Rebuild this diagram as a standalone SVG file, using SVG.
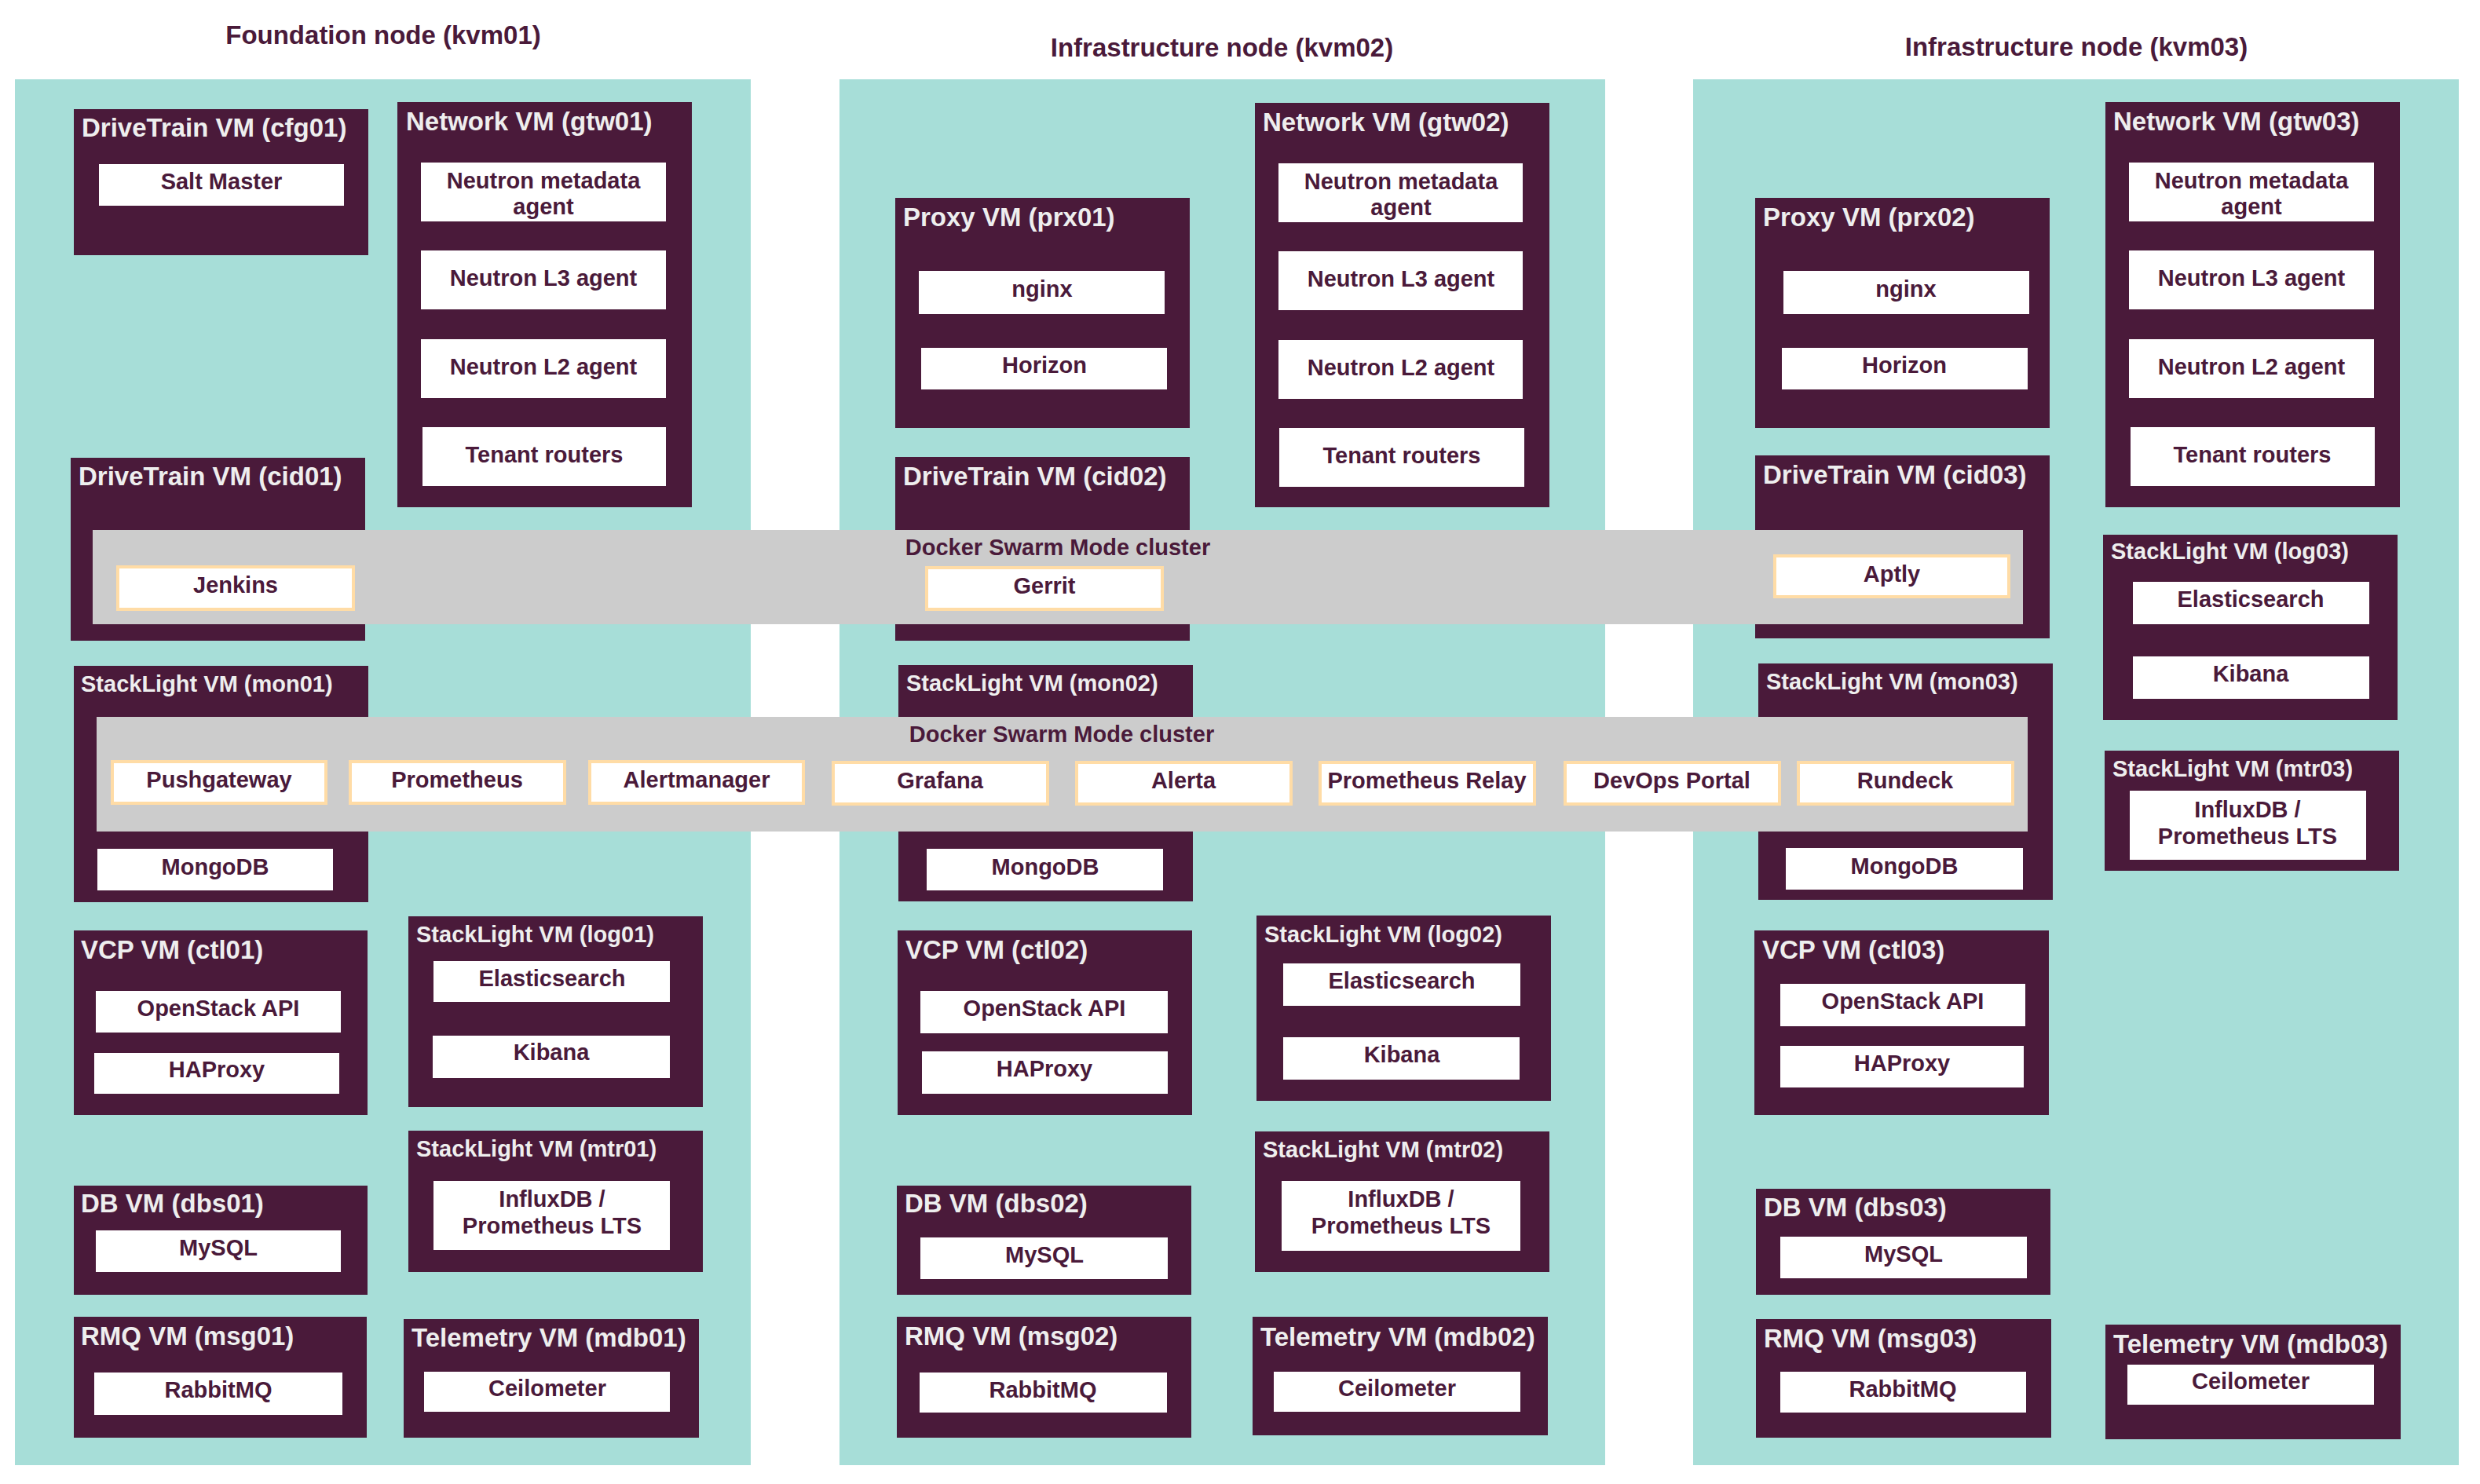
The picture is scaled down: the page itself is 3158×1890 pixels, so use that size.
<svg xmlns="http://www.w3.org/2000/svg" width="3158" height="1890" viewBox="0 0 3158 1890">
<style>
.bg{fill:#ffffff}
.panel{fill:#a7ded8}
.vm{fill:#4a1a3a}
.comp{fill:#ffffff}
.band{fill:#cccccc}
.svc{fill:#ffffff;stroke:#ffdca6;stroke-width:4}
text{font-family:"Liberation Sans",Arial,sans-serif;font-weight:bold}
.ht{fill:#4a1a3a;font-size:33px;text-anchor:middle}
.vt{fill:#eeeeee;font-size:33px}
.st{fill:#eeeeee;font-size:29px}
.ct{fill:#4a1a3a;font-size:29px;text-anchor:middle}
</style>
<rect class="bg" x="0" y="0" width="3158" height="1890"/>

<g id="kvm01">
<rect class="panel" x="19" y="101" width="937" height="1765"/>
<text class="ht" x="488" y="56">Foundation node (kvm01)</text>
</g>
<g id="kvm02">
<rect class="panel" x="1069" y="101" width="975" height="1765"/>
<text class="ht" x="1556" y="72">Infrastructure node (kvm02)</text>
</g>
<g id="kvm03">
<rect class="panel" x="2156" y="101" width="975" height="1765"/>
<text class="ht" x="2644" y="71">Infrastructure node (kvm03)</text>
</g>

<!-- kvm01 VMs -->
<g id="cfg01">
<rect class="vm" x="94" y="139" width="375" height="186"/>
<text class="vt" x="104" y="174">DriveTrain VM (cfg01)</text>
<rect class="comp" x="126" y="209" width="312" height="53"/>
<text class="ct" x="282" y="241">Salt Master</text>
</g>
<g id="gtw01">
<rect class="vm" x="506" y="130" width="375" height="516"/>
<text class="vt" x="517" y="166">Network VM (gtw01)</text>
<rect class="comp" x="536" y="207" width="312" height="75"/>
<text class="ct" x="692" y="240">Neutron metadata</text>
<text class="ct" x="692" y="273">agent</text>
<rect class="comp" x="536" y="319" width="312" height="75"/>
<text class="ct" x="692" y="364">Neutron L3 agent</text>
<rect class="comp" x="536" y="432" width="312" height="75"/>
<text class="ct" x="692" y="477">Neutron L2 agent</text>
<rect class="comp" x="538" y="544" width="310" height="75"/>
<text class="ct" x="693" y="589">Tenant routers</text>
</g>
<g id="cid01">
<rect class="vm" x="90" y="583" width="375" height="233"/>
<text class="vt" x="100" y="618">DriveTrain VM (cid01)</text>
</g>
<g id="mon01">
<rect class="vm" x="94" y="848" width="375" height="301"/>
<text class="st" x="103" y="881">StackLight VM (mon01)</text>
<rect class="comp" x="124" y="1081" width="300" height="53"/>
<text class="ct" x="274" y="1114">MongoDB</text>
</g>
<g id="ctl01">
<rect class="vm" x="94" y="1185" width="374" height="235"/>
<text class="vt" x="103" y="1221">VCP VM (ctl01)</text>
<rect class="comp" x="122" y="1262" width="312" height="53"/>
<text class="ct" x="278" y="1294">OpenStack API</text>
<rect class="comp" x="120" y="1341" width="312" height="52"/>
<text class="ct" x="276" y="1372">HAProxy</text>
</g>
<g id="log01">
<rect class="vm" x="520" y="1167" width="375" height="243"/>
<text class="st" x="530" y="1200">StackLight VM (log01)</text>
<rect class="comp" x="552" y="1224" width="301" height="52"/>
<text class="ct" x="703" y="1256">Elasticsearch</text>
<rect class="comp" x="551" y="1319" width="302" height="54"/>
<text class="ct" x="702" y="1350">Kibana</text>
</g>
<g id="mtr01">
<rect class="vm" x="520" y="1440" width="375" height="180"/>
<text class="st" x="530" y="1473">StackLight VM (mtr01)</text>
<rect class="comp" x="552" y="1504" width="301" height="88"/>
<text class="ct" x="703" y="1537">InfluxDB /</text>
<text class="ct" x="703" y="1571">Prometheus LTS</text>
</g>
<g id="dbs01">
<rect class="vm" x="94" y="1510" width="374" height="139"/>
<text class="vt" x="103" y="1544">DB VM (dbs01)</text>
<rect class="comp" x="122" y="1567" width="312" height="53"/>
<text class="ct" x="278" y="1599">MySQL</text>
</g>
<g id="msg01">
<rect class="vm" x="94" y="1677" width="373" height="154"/>
<text class="vt" x="103" y="1713">RMQ VM (msg01)</text>
<rect class="comp" x="120" y="1748" width="316" height="54"/>
<text class="ct" x="278" y="1780">RabbitMQ</text>
</g>
<g id="mdb01">
<rect class="vm" x="514" y="1680" width="376" height="151"/>
<text class="vt" x="524" y="1715">Telemetry VM (mdb01)</text>
<rect class="comp" x="540" y="1747" width="313" height="51"/>
<text class="ct" x="697" y="1778">Ceilometer</text>
</g>

<!-- kvm02 VMs -->
<g id="prx01">
<rect class="vm" x="1140" y="252" width="375" height="293"/>
<text class="vt" x="1150" y="288">Proxy VM (prx01)</text>
<rect class="comp" x="1170" y="345" width="313" height="55"/>
<text class="ct" x="1327" y="378">nginx</text>
<rect class="comp" x="1173" y="443" width="313" height="53"/>
<text class="ct" x="1330" y="475">Horizon</text>
</g>
<g id="gtw02">
<rect class="vm" x="1598" y="131" width="375" height="515"/>
<text class="vt" x="1608" y="167">Network VM (gtw02)</text>
<rect class="comp" x="1628" y="208" width="311" height="75"/>
<text class="ct" x="1784" y="241">Neutron metadata</text>
<text class="ct" x="1784" y="274">agent</text>
<rect class="comp" x="1628" y="320" width="311" height="75"/>
<text class="ct" x="1784" y="365">Neutron L3 agent</text>
<rect class="comp" x="1628" y="433" width="311" height="75"/>
<text class="ct" x="1784" y="478">Neutron L2 agent</text>
<rect class="comp" x="1629" y="545" width="312" height="75"/>
<text class="ct" x="1785" y="590">Tenant routers</text>
</g>
<g id="cid02">
<rect class="vm" x="1140" y="582" width="375" height="234"/>
<text class="vt" x="1150" y="618">DriveTrain VM (cid02)</text>
</g>
<g id="mon02">
<rect class="vm" x="1144" y="847" width="375" height="301"/>
<text class="st" x="1154" y="880">StackLight VM (mon02)</text>
<rect class="comp" x="1180" y="1081" width="301" height="53"/>
<text class="ct" x="1331" y="1114">MongoDB</text>
</g>
<g id="ctl02">
<rect class="vm" x="1143" y="1185" width="375" height="235"/>
<text class="vt" x="1153" y="1221">VCP VM (ctl02)</text>
<rect class="comp" x="1172" y="1262" width="315" height="54"/>
<text class="ct" x="1330" y="1294">OpenStack API</text>
<rect class="comp" x="1174" y="1339" width="313" height="54"/>
<text class="ct" x="1330" y="1371">HAProxy</text>
</g>
<g id="log02">
<rect class="vm" x="1600" y="1166" width="375" height="236"/>
<text class="st" x="1610" y="1200">StackLight VM (log02)</text>
<rect class="comp" x="1634" y="1227" width="302" height="54"/>
<text class="ct" x="1785" y="1259">Elasticsearch</text>
<rect class="comp" x="1634" y="1321" width="301" height="54"/>
<text class="ct" x="1785" y="1353">Kibana</text>
</g>
<g id="mtr02">
<rect class="vm" x="1598" y="1441" width="375" height="179"/>
<text class="st" x="1608" y="1474">StackLight VM (mtr02)</text>
<rect class="comp" x="1632" y="1504" width="304" height="89"/>
<text class="ct" x="1784" y="1537">InfluxDB /</text>
<text class="ct" x="1784" y="1571">Prometheus LTS</text>
</g>
<g id="dbs02">
<rect class="vm" x="1142" y="1510" width="375" height="139"/>
<text class="vt" x="1152" y="1544">DB VM (dbs02)</text>
<rect class="comp" x="1172" y="1576" width="315" height="53"/>
<text class="ct" x="1330" y="1608">MySQL</text>
</g>
<g id="msg02">
<rect class="vm" x="1142" y="1677" width="375" height="154"/>
<text class="vt" x="1152" y="1713">RMQ VM (msg02)</text>
<rect class="comp" x="1171" y="1748" width="315" height="51"/>
<text class="ct" x="1328" y="1780">RabbitMQ</text>
</g>
<g id="mdb02">
<rect class="vm" x="1595" y="1677" width="376" height="151"/>
<text class="vt" x="1605" y="1714">Telemetry VM (mdb02)</text>
<rect class="comp" x="1622" y="1747" width="314" height="51"/>
<text class="ct" x="1779" y="1778">Ceilometer</text>
</g>

<!-- kvm03 VMs -->
<g id="prx02">
<rect class="vm" x="2235" y="252" width="375" height="293"/>
<text class="vt" x="2245" y="288">Proxy VM (prx02)</text>
<rect class="comp" x="2271" y="345" width="313" height="55"/>
<text class="ct" x="2427" y="378">nginx</text>
<rect class="comp" x="2269" y="443" width="313" height="53"/>
<text class="ct" x="2425" y="475">Horizon</text>
</g>
<g id="gtw03">
<rect class="vm" x="2681" y="130" width="375" height="516"/>
<text class="vt" x="2691" y="166">Network VM (gtw03)</text>
<rect class="comp" x="2711" y="207" width="312" height="75"/>
<text class="ct" x="2867" y="240">Neutron metadata</text>
<text class="ct" x="2867" y="273">agent</text>
<rect class="comp" x="2711" y="319" width="312" height="75"/>
<text class="ct" x="2867" y="364">Neutron L3 agent</text>
<rect class="comp" x="2711" y="432" width="312" height="75"/>
<text class="ct" x="2867" y="477">Neutron L2 agent</text>
<rect class="comp" x="2713" y="544" width="311" height="75"/>
<text class="ct" x="2868" y="589">Tenant routers</text>
</g>
<g id="cid03">
<rect class="vm" x="2235" y="580" width="375" height="233"/>
<text class="vt" x="2245" y="616">DriveTrain VM (cid03)</text>
</g>
<g id="log03">
<rect class="vm" x="2678" y="681" width="375" height="236"/>
<text class="st" x="2688" y="712">StackLight VM (log03)</text>
<rect class="comp" x="2716" y="741" width="301" height="54"/>
<text class="ct" x="2866" y="773">Elasticsearch</text>
<rect class="comp" x="2716" y="836" width="301" height="54"/>
<text class="ct" x="2866" y="868">Kibana</text>
</g>
<g id="mon03">
<rect class="vm" x="2239" y="845" width="375" height="301"/>
<text class="st" x="2249" y="878">StackLight VM (mon03)</text>
<rect class="comp" x="2274" y="1080" width="302" height="53"/>
<text class="ct" x="2425" y="1113">MongoDB</text>
</g>
<g id="mtr03">
<rect class="vm" x="2680" y="956" width="375" height="153"/>
<text class="st" x="2690" y="989">StackLight VM (mtr03)</text>
<rect class="comp" x="2712" y="1007" width="301" height="88"/>
<text class="ct" x="2862" y="1041">InfluxDB /</text>
<text class="ct" x="2862" y="1075">Prometheus LTS</text>
</g>
<g id="ctl03">
<rect class="vm" x="2234" y="1185" width="375" height="235"/>
<text class="vt" x="2244" y="1221">VCP VM (ctl03)</text>
<rect class="comp" x="2267" y="1253" width="312" height="54"/>
<text class="ct" x="2423" y="1285">OpenStack API</text>
<rect class="comp" x="2267" y="1332" width="310" height="53"/>
<text class="ct" x="2422" y="1364">HAProxy</text>
</g>
<g id="dbs03">
<rect class="vm" x="2236" y="1514" width="375" height="135"/>
<text class="vt" x="2246" y="1549">DB VM (dbs03)</text>
<rect class="comp" x="2267" y="1575" width="314" height="53"/>
<text class="ct" x="2424" y="1607">MySQL</text>
</g>
<g id="msg03">
<rect class="vm" x="2236" y="1680" width="376" height="151"/>
<text class="vt" x="2246" y="1716">RMQ VM (msg03)</text>
<rect class="comp" x="2267" y="1747" width="313" height="52"/>
<text class="ct" x="2423" y="1779">RabbitMQ</text>
</g>
<g id="mdb03">
<rect class="vm" x="2681" y="1687" width="376" height="146"/>
<text class="vt" x="2691" y="1723">Telemetry VM (mdb03)</text>
<rect class="comp" x="2709" y="1738" width="314" height="51"/>
<text class="ct" x="2866" y="1769">Ceilometer</text>
</g>

<!-- Docker Swarm clusters -->
<g id="swarm-drivetrain">
<rect class="band" x="118" y="675" width="2458" height="120"/>
<text class="ct" x="1347" y="707">Docker Swarm Mode cluster</text>
<rect class="svc" x="150" y="722" width="300" height="54"/>
<text class="ct" x="300" y="755">Jenkins</text>
<rect class="svc" x="1180" y="723" width="300" height="53"/>
<text class="ct" x="1330" y="756">Gerrit</text>
<rect class="svc" x="2260" y="708" width="298" height="52"/>
<text class="ct" x="2409" y="741">Aptly</text>
</g>
<g id="swarm-stacklight">
<rect class="band" x="123" y="913" width="2459" height="146"/>
<text class="ct" x="1352" y="945">Docker Swarm Mode cluster</text>
<rect class="svc" x="143" y="970" width="272" height="53"/>
<text class="ct" x="279" y="1003">Pushgateway</text>
<rect class="svc" x="446" y="970" width="273" height="53"/>
<text class="ct" x="582" y="1003">Prometheus</text>
<rect class="svc" x="751" y="970" width="272" height="53"/>
<text class="ct" x="887" y="1003">Alertmanager</text>
<rect class="svc" x="1061" y="971" width="273" height="53"/>
<text class="ct" x="1197" y="1004">Grafana</text>
<rect class="svc" x="1371" y="971" width="273" height="53"/>
<text class="ct" x="1507" y="1004">Alerta</text>
<rect class="svc" x="1681" y="971" width="273" height="53"/>
<text class="ct" x="1817" y="1004">Prometheus Relay</text>
<rect class="svc" x="1993" y="971" width="273" height="53"/>
<text class="ct" x="2129" y="1004">DevOps Portal</text>
<rect class="svc" x="2290" y="971" width="273" height="53"/>
<text class="ct" x="2426" y="1004">Rundeck</text>
</g>
</svg>
